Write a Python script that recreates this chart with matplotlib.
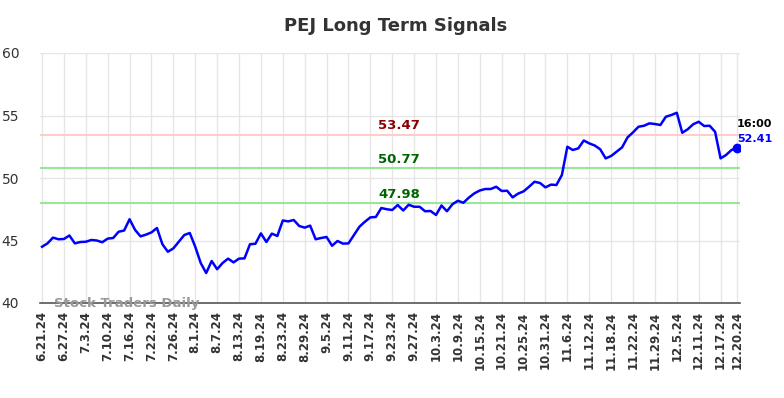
import matplotlib
matplotlib.use('Agg')
import matplotlib.pyplot as plt

# PEJ closing prices, one per trading day 6.21.24 .. 12.20.24
prices = [
    44.5, 44.77, 45.23, 45.1, 45.12, 45.4, 44.77, 44.88, 44.9, 45.04,
    45.0, 44.86, 45.15, 45.2, 45.7, 45.8, 46.7, 45.85, 45.33, 45.47,
    45.65, 46.0, 44.7, 44.1, 44.37, 44.9, 45.44, 45.6, 44.5, 43.2,
    42.4, 43.36, 42.7, 43.2, 43.55, 43.25, 43.55, 43.57, 44.7, 44.74,
    45.57, 44.88, 45.55, 45.36, 46.6, 46.53, 46.64, 46.16, 46.03, 46.19,
    45.1, 45.2, 45.28, 44.58, 44.96, 44.75, 44.77, 45.44, 46.1, 46.5,
    46.85, 46.88, 47.6, 47.5, 47.44, 47.84, 47.4, 47.86, 47.7, 47.7,
    47.34, 47.36, 47.04, 47.8, 47.34, 47.9, 48.18, 48.02, 48.43, 48.77,
    49.0, 49.12, 49.12, 49.3, 48.96, 48.98, 48.45, 48.75, 48.93, 49.3,
    49.7, 49.6, 49.25, 49.47, 49.44, 50.24, 52.5, 52.24, 52.37, 53.0,
    52.77, 52.6, 52.3, 51.57, 51.76, 52.1, 52.45, 53.25, 53.65, 54.1,
    54.18, 54.37, 54.32, 54.24, 54.9, 55.04, 55.22, 53.62, 53.9, 54.3,
    54.5, 54.16, 54.18, 53.7, 51.57, 51.84, 52.24, 52.41,
]

tick_labels = [
    '6.21.24', '6.27.24', '7.3.24', '7.10.24', '7.16.24', '7.22.24', '7.26.24',
    '8.1.24', '8.7.24', '8.13.24', '8.19.24', '8.23.24', '8.29.24', '9.5.24',
    '9.11.24', '9.17.24', '9.23.24', '9.27.24', '10.3.24', '10.9.24',
    '10.15.24', '10.21.24', '10.25.24', '10.31.24', '11.6.24', '11.12.24',
    '11.18.24', '11.22.24', '11.29.24', '12.5.24', '12.11.24', '12.17.24',
    '12.20.24',
]

resistance = 53.47
supports = [50.77, 47.98]

n = len(prices)
x = list(range(n))
tick_pos = list(range(0, n - 1, 4)) + [n - 1]

fig = plt.figure(figsize=(7.84, 3.98), dpi=100)
ax = fig.add_axes([40 / 784, 95 / 398, 700 / 784, 250 / 398])

ax.set_xlim(-0.37, n - 0.45)
ax.set_ylim(40, 60)
ax.set_yticks([40, 45, 50, 55, 60])
ax.set_xticks(tick_pos)
ax.set_xticklabels(tick_labels, rotation=90, fontsize=8.5, fontweight='bold', color='#333333')
ax.tick_params(axis='x', length=0, pad=6)
ax.tick_params(axis='y', length=0, pad=14, labelsize=10, labelcolor='#333333')
for lab in ax.get_yticklabels():
    lab.set_horizontalalignment('right')
ax.tick_params(axis='y', pad=15)
ax.grid(True, color='#e6e6e6', linewidth=1)
ax.set_axisbelow(True)
for s in ['top', 'right', 'left']:
    ax.spines[s].set_visible(False)
ax.spines['bottom'].set_color('#555555')
ax.spines['bottom'].set_linewidth(1.2)

# level labels sit a little right of the middle
mid = n / 2 + 1.3
ax.axhline(resistance, color='#ffcccc', linewidth=1.5)
ax.text(mid, resistance + 0.2, f'{resistance:.2f}', color='#8b0000', fontsize=9.5,
        fontweight='bold', ha='center', va='bottom')
for lvl in supports:
    ax.axhline(lvl, color='#99e699', linewidth=1.5)
    ax.text(mid, lvl + 0.2, f'{lvl:.2f}', color='#006400', fontsize=9.5,
            fontweight='bold', ha='center', va='bottom')

ax.plot(x, prices, color='#0000ff', linewidth=1.8)
ax.plot(x[-1], prices[-1], 'o', color='#0000ff', markersize=6)
ax.annotate('16:00', (x[-1], prices[-1]), xytext=(0, 15), textcoords='offset points',
            fontsize=8, fontweight='bold', color='black', ha='left', annotation_clip=False)
ax.annotate(f'{prices[-1]:.2f}', (x[-1], prices[-1]), xytext=(0, 4), textcoords='offset points',
            fontsize=8, fontweight='bold', color='#0000ff', ha='left', annotation_clip=False)

ax.text(0.02, 0.0, 'Stock Traders Daily', transform=ax.transAxes, fontsize=9.5,
        fontweight='bold', color='#999999', va='center', ha='left')

fig.text(0.505, 1 - 26 / 398, 'PEJ Long Term Signals', fontsize=13, fontweight='bold',
         color='#333333', ha='center', va='center')

fig.savefig('out.png', dpi=100)
